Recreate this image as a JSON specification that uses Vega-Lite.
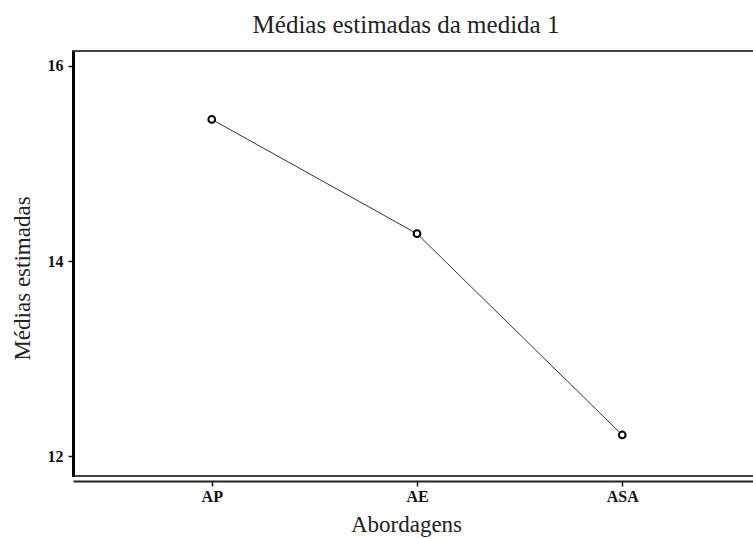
{
  "$schema": "https://vega.github.io/schema/vega-lite/v6.json",
  "width": 688,
  "height": 425,
  "autosize": "none",
  "padding": {"left": 73, "top": 51, "right": 0, "bottom": 62},
  "background": "white",
  "title": {
    "text": "Médias estimadas da medida 1",
    "font": "Liberation Serif",
    "fontSize": 25,
    "fontWeight": "normal",
    "color": "#222",
    "anchor": "middle",
    "baseline": "alphabetic",
    "offset": -7,
    "dx": -11
  },
  "config": {
    "view": {"stroke": "#444", "strokeWidth": 2}
  },
  "data": {
    "values": [
      {"abordagem": "AP", "media": 15.45},
      {"abordagem": "AE", "media": 14.28},
      {"abordagem": "ASA", "media": 12.22}
    ]
  },
  "encoding": {
    "x": {
      "field": "abordagem",
      "type": "ordinal",
      "sort": null,
      "scale": {"type": "point", "padding": 0.676},
      "axis": {
        "title": "Abordagens",
        "titleFont": "Liberation Serif",
        "titleFontSize": 23,
        "titleFontWeight": "normal",
        "titleColor": "#222",
        "titleBaseline": "alphabetic",
        "titleY": 50,
        "titleX": 333,
        "labelAngle": 0,
        "labelFont": "Liberation Serif",
        "labelFontSize": 16,
        "labelFontWeight": "bold",
        "labelColor": "#111",
        "labelPadding": 2,
        "offset": 5,
        "domainColor": "#222",
        "domainWidth": 2,
        "tickColor": "#111",
        "tickWidth": 1.5,
        "tickSize": 5,
        "grid": false
      }
    },
    "y": {
      "field": "media",
      "type": "quantitative",
      "scale": {"domain": [11.8, 16.15], "nice": false, "zero": false},
      "axis": {
        "title": "Médias estimadas",
        "titleFont": "Liberation Serif",
        "titleFontSize": 23,
        "titleFontWeight": "normal",
        "titleColor": "#222",
        "titleAngle": 270,
        "titleAlign": "center",
        "titleBaseline": "alphabetic",
        "titleX": -44,
        "titleY": 227,
        "values": [12, 14, 16],
        "labelFont": "Liberation Serif",
        "labelFontSize": 16,
        "labelFontWeight": "bold",
        "labelColor": "#111",
        "labelPadding": 5,
        "domainColor": "#000",
        "domainWidth": 3,
        "tickColor": "#111",
        "tickWidth": 1.5,
        "tickSize": 5,
        "grid": false
      }
    }
  },
  "layer": [
    {"mark": {"type": "line", "color": "#333", "strokeWidth": 1}},
    {"mark": {"type": "point", "shape": "circle", "size": 45, "filled": false, "stroke": "#000", "strokeWidth": 2, "fill": "white", "opacity": 1}}
  ]
}
